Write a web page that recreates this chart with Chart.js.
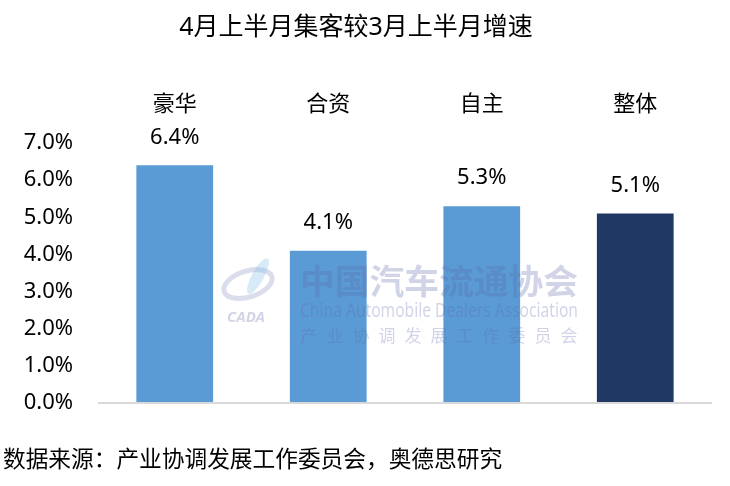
<!DOCTYPE html>
<html>
<head>
<meta charset="utf-8">
<script src="https://cdn.jsdelivr.net/npm/chart.js@4/dist/chart.umd.min.js"></script>
<style>
  html, body { margin: 0; padding: 0; background: #fff; }
  #wrap { width: 730px; height: 486px; position: relative; }
</style>
</head>
<body>
<div id="wrap"><canvas id="chart" width="730" height="486"></canvas></div>
<script>
const FONT = "'Noto Sans', 'Noto Sans CJK SC', sans-serif";

// chart data
const categories = ['豪华', '合资', '自主', '整体'];
const growthValues = [6.4, 4.1, 5.3, 5.1]; // percent
const barColors = ['#5B9BD5', '#5B9BD5', '#5B9BD5', '#203864'];
const titleText = '4月上半月集客较3月上半月增速';
const sourceText = '数据来源：产业协调发展工作委员会，奥德思研究';

// value labels above each bar
const valueLabels = {
    id: 'valueLabels',
    afterDatasetsDraw(chart) {
        const ctx = chart.ctx;
        const meta = chart.getDatasetMeta(0);
        ctx.save();
        ctx.font = '22px ' + FONT;
        ctx.fillStyle = '#000';
        ctx.textAlign = 'center';
        ctx.textBaseline = 'middle';
        meta.data.forEach((bar, i) => {
            ctx.fillText(growthValues[i].toFixed(1) + '%', bar.x, bar.y - 28);
        });
        ctx.restore();
    }
};

// faint association watermark + source note
const extras = {
    id: 'extras',
    afterDraw(chart) {
        const ctx = chart.ctx;
        ctx.save();
        // watermark
        ctx.fillStyle = 'rgba(90, 100, 170, 0.28)';
        ctx.strokeStyle = 'rgba(90, 100, 170, 0.22)';
        ctx.textBaseline = 'middle';
        ctx.textAlign = 'left';
        ctx.font = 'bold 34px ' + FONT;
        let w = ctx.measureText('中国汽车流通协会').width;
        ctx.save();
        ctx.translate(300, 284);
        ctx.scale(278 / w, 1);
        ctx.fillText('中国汽车流通协会', 0, 0);
        ctx.restore();

        ctx.font = '20px ' + FONT;
        w = ctx.measureText('China Automobile Dealers Association').width;
        ctx.save();
        ctx.translate(300, 311);
        ctx.scale(278 / w, 1);
        ctx.fillText('China Automobile Dealers Association', 0, 0);
        ctx.restore();

        ctx.font = '17px ' + FONT;
        ctx.textAlign = 'center';
        const chars = '产业协调发展工作委员会'.split('');
        chars.forEach((c, i) => {
            ctx.fillText(c, 309 + i * 26, 337);
        });

        // little logo
        ctx.lineWidth = 5;
        ctx.beginPath();
        ctx.ellipse(248, 284, 25, 13, -0.3, 0, Math.PI * 2);
        ctx.stroke();
        ctx.fillStyle = 'rgba(120, 190, 230, 0.3)';
        ctx.beginPath();
        ctx.ellipse(258, 276, 6, 20, 0.5, 0, Math.PI * 2);
        ctx.fill();
        ctx.fillStyle = 'rgba(90, 100, 170, 0.28)';
        ctx.font = 'italic bold 15px ' + FONT;
        ctx.fillText('CADA', 246, 318);

        // source note
        ctx.fillStyle = '#000';
        ctx.textAlign = 'left';
        ctx.font = '22.7px ' + FONT;
        ctx.fillText(sourceText, 3, 461);
        ctx.restore();
    }
};

new Chart(document.getElementById('chart'), {
    type: 'bar',
    data: {
        labels: categories,
        datasets: [{
            data: growthValues,
            backgroundColor: barColors,
            categoryPercentage: 1,
            barPercentage: 0.5
        }]
    },
    options: {
        responsive: false,
        animation: false,
        layout: { padding: { left: 0, right: 18, top: 0, bottom: 83 } },
        plugins: {
            legend: { display: false },
            tooltip: { enabled: false },
            title: {
                display: true,
                text: titleText,
                color: '#000',
                font: { family: FONT, size: 25, weight: 'normal' },
                padding: { top: 13, bottom: 40 }
            }
        },
        scales: {
            x: {
                position: 'top',
                grid: { display: false, drawTicks: false },
                border: { display: false },
                ticks: {
                    color: '#000',
                    padding: 25,
                    font: { family: FONT, size: 22 }
                },
                afterFit: scale => { scale.height = 60; }
            },
            y: {
                min: 0,
                max: 7,
                border: { display: false },
                grid: {
                    drawTicks: false,
                    lineWidth: 2,
                    color: ctx => ctx.tick && ctx.tick.value === 0 ? '#D9D9D9' : 'rgba(0,0,0,0)'
                },
                ticks: {
                    stepSize: 1,
                    color: '#000',
                    padding: 25,
                    font: { family: FONT, size: 22 },
                    callback: v => v.toFixed(1) + '%'
                },
                afterFit: scale => { scale.width = 98; }
            }
        }
    },
    plugins: [valueLabels, extras]
});
</script>
</body>
</html>
